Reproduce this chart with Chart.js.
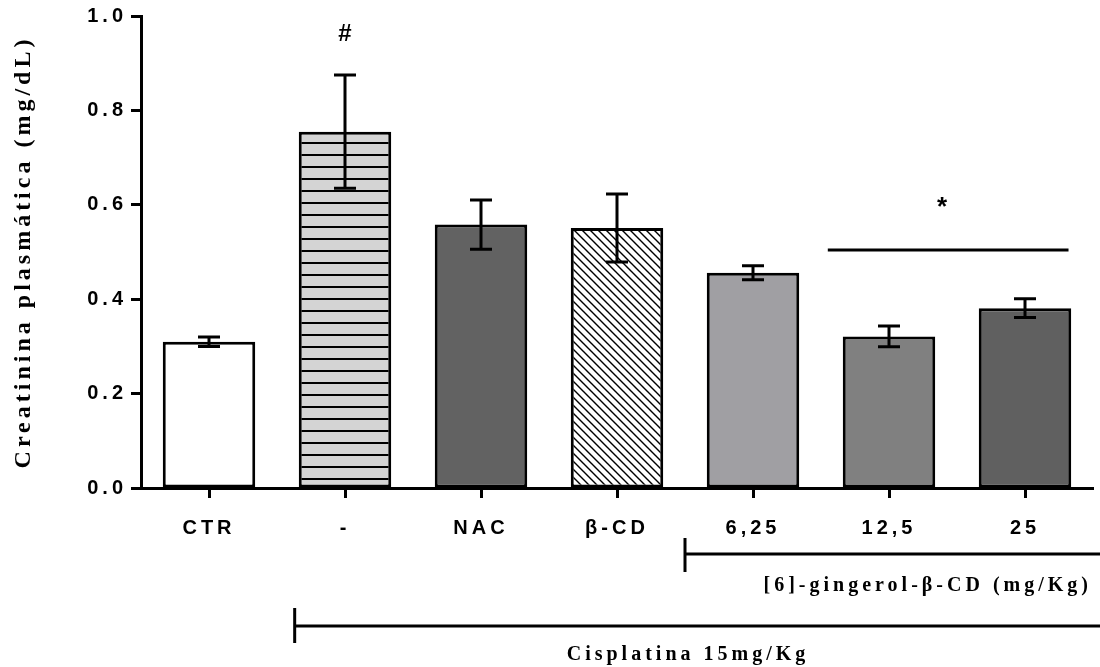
<!DOCTYPE html>
<html lang="pt">
<head>
    <meta charset="UTF-8">
    <title>Creatinina plasmática</title>
    <script src="https://cdn.jsdelivr.net/npm/chart.js"></script>
    <style>
        body {
            margin: 0;
            padding: 0;
            background: #fff;
        }
    </style>
</head>
<body>
    <canvas id="barChart" width="1100" height="667"></canvas>

    <script>
        // data
        var groups = ['CTR', '-', 'NAC', 'β-CD', '6,25', '12,5', '25'];
        var means = [0.31, 0.755, 0.558, 0.551, 0.456, 0.321, 0.381];
        var sem = [0.01, 0.12, 0.052, 0.072, 0.015, 0.022, 0.02];
        var yTicks = [0, 0.2, 0.4, 0.6, 0.8, 1.0];

        var canvas = document.getElementById('barChart');
        var ctx = canvas.getContext('2d');

        // horizontal stripes for the cisplatin-only bar
        function stripePattern() {
            var c = document.createElement('canvas');
            c.width = 12;
            c.height = 12;
            var g = c.getContext('2d');
            g.fillStyle = '#d4d4d4';
            g.fillRect(0, 0, 12, 12);
            g.fillStyle = '#000';
            g.fillRect(0, 10, 12, 2);
            return ctx.createPattern(c, 'repeat');
        }

        // diagonal hatch for the β-CD bar
        function hatchPattern() {
            var c = document.createElement('canvas');
            c.width = 8;
            c.height = 8;
            var g = c.getContext('2d');
            g.fillStyle = '#fff';
            g.fillRect(0, 0, 8, 8);
            g.strokeStyle = '#000';
            g.lineWidth = 1.4;
            g.beginPath();
            g.moveTo(-2, -2); g.lineTo(10, 10);
            g.moveTo(-2, 6); g.lineTo(2, 10);
            g.moveTo(6, -2); g.lineTo(10, 2);
            g.stroke();
            return ctx.createPattern(c, 'repeat');
        }

        var fills = ['#ffffff', stripePattern(), '#626262', hatchPattern(), '#a09fa3', '#808080', '#606060'];

        var sansFamily = '"Liberation Sans", Arial, sans-serif';
        var serifFamily = '"Liberation Serif", "Times New Roman", serif';

        var annotations = {
            id: 'annotations',
            beforeDraw: function(chart) {
                chart.ctx.letterSpacing = '4px';
            },
            afterDatasetsDraw: function(chart) {
                var c = chart.ctx;
                var x = chart.scales.x;
                var y = chart.scales.y;
                c.save();
                c.strokeStyle = '#000';
                c.fillStyle = '#000';
                c.lineWidth = 3;
                c.lineCap = 'butt';

                // error bars
                for (var i = 0; i < means.length; i++) {
                    var px = x.getPixelForValue(i);
                    var top = y.getPixelForValue(means[i] + sem[i]);
                    var bot = y.getPixelForValue(means[i] - sem[i]);
                    c.beginPath();
                    c.moveTo(px, top); c.lineTo(px, bot);
                    c.moveTo(px - 11, top); c.lineTo(px + 11, top);
                    c.moveTo(px - 11, bot); c.lineTo(px + 11, bot);
                    c.stroke();
                }

                // significance marks
                c.textAlign = 'center';
                c.textBaseline = 'alphabetic';
                c.letterSpacing = '0px';
                c.font = 'bold 24px ' + sansFamily;
                c.fillText('#', x.getPixelForValue(1), y.getPixelForValue(0.948));

                c.beginPath();
                c.moveTo(x.getPixelForValue(4.55), y.getPixelForValue(0.504));
                c.lineTo(x.getPixelForValue(6.32), y.getPixelForValue(0.504));
                c.stroke();
                c.font = 'bold 26px ' + sansFamily;
                c.fillText('*', x.getPixelForValue(5.39), y.getPixelForValue(0.578));

                c.restore();
            },
            afterDraw: function(chart) {
                var c = chart.ctx;
                var x = chart.scales.x;
                var y = chart.scales.y;
                var W = chart.width;
                c.save();
                c.strokeStyle = '#000';
                c.fillStyle = '#000';
                c.lineWidth = 3;

                // [6]-gingerol bracket
                var gx = x.getPixelForValue(3.5);
                c.beginPath();
                c.moveTo(gx, 538); c.lineTo(gx, 572);
                c.moveTo(gx, 554); c.lineTo(W, 554);
                c.stroke();

                // cisplatin bracket
                var cx = x.getPixelForValue(0.63);
                c.beginPath();
                c.moveTo(cx, 608); c.lineTo(cx, 643);
                c.moveTo(cx, 626); c.lineTo(W, 626);
                c.stroke();

                c.textBaseline = 'middle';
                c.font = 'bold 20px ' + serifFamily;
                c.letterSpacing = '4px';
                c.textAlign = 'right';
                c.fillText('[6]-gingerol-β-CD (mg/Kg)', 1092, 586);
                c.textAlign = 'center';
                c.fillText('Cisplatina 15mg/Kg', 688, 655);

                // y axis title
                c.save();
                c.translate(24, (y.top + y.bottom) / 2);
                c.rotate(-Math.PI / 2);
                c.font = 'bold 24px ' + serifFamily;
                c.letterSpacing = '4px';
                c.textAlign = 'center';
                c.fillText('Creatinina plasmática (mg/dL)', 0, 0);
                c.restore();

                c.restore();
            }
        };

        new Chart(ctx, {
            type: 'bar',
            data: {
                labels: groups,
                datasets: [{
                    data: means,
                    backgroundColor: fills,
                    borderColor: '#000',
                    borderWidth: 3,
                    borderSkipped: false,
                    barPercentage: 0.68,
                    categoryPercentage: 1
                }]
            },
            options: {
                responsive: false,
                animation: false,
                layout: {
                    padding: { top: 16, right: 7, left: 0, bottom: 0 }
                },
                plugins: {
                    legend: { display: false },
                    tooltip: { enabled: false }
                },
                scales: {
                    x: {
                        grid: {
                            drawOnChartArea: false,
                            offset: false,
                            tickLength: 10,
                            tickWidth: 3,
                            tickColor: '#000'
                        },
                        border: { width: 3, color: '#000' },
                        ticks: {
                            color: '#000',
                            font: { family: sansFamily, weight: 'bold', size: 20 },
                            padding: 18,
                            maxRotation: 0,
                            autoSkip: false
                        },
                        afterFit: function(s) { s.height = 179; }
                    },
                    y: {
                        min: 0,
                        max: 1,
                        grid: {
                            drawOnChartArea: false,
                            tickLength: 10,
                            tickWidth: 3,
                            tickColor: '#000'
                        },
                        border: { width: 3, color: '#000' },
                        ticks: {
                            color: '#000',
                            font: { family: sansFamily, weight: 'bold', size: 20 },
                            padding: 4,
                            callback: function(v) { return Number(v).toFixed(1); }
                        },
                        afterBuildTicks: function(s) {
                            s.ticks = yTicks.map(function(v) { return { value: v }; });
                        },
                        afterFit: function(s) { s.width = 141; }
                    }
                }
            },
            plugins: [annotations]
        });
    </script>
</body>
</html>
